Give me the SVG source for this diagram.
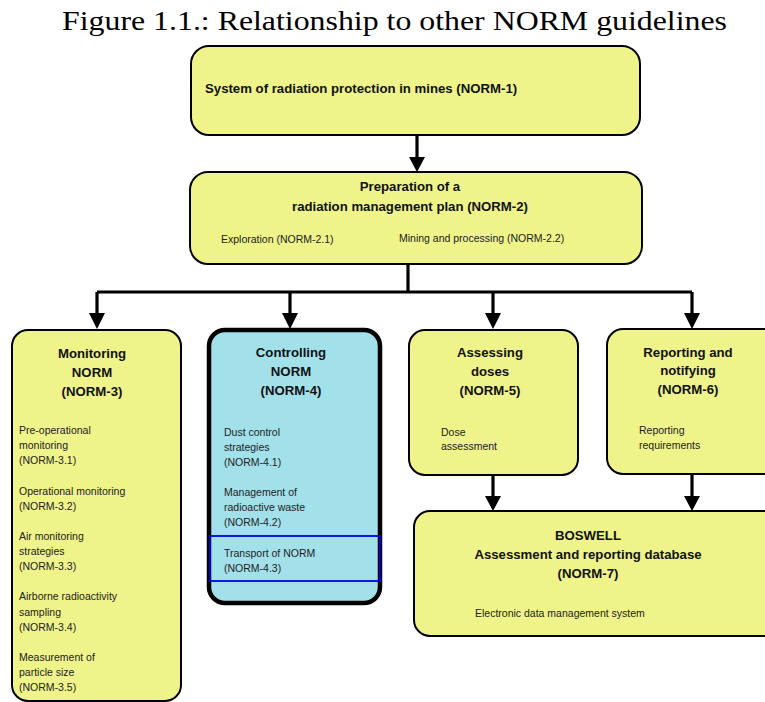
<svg xmlns="http://www.w3.org/2000/svg" width="765" height="702" viewBox="0 0 765 702">
<style>
.title{font-family:"Liberation Serif",serif;font-size:28px;fill:#000}
.box{fill:#eef38a;stroke:#000;stroke-width:2}
.cbox{fill:#a2e0ea;stroke:#000;stroke-width:4.5}
.h{font-family:"Liberation Sans",Arial,sans-serif;font-size:13.2px;font-weight:bold;fill:#111}
.hc{text-anchor:middle}
.s{font-family:"Liberation Sans",Arial,sans-serif;font-size:10.5px;fill:#222}
.ln{fill:none;stroke:#000;stroke-width:3.2}
</style>
<rect width="765" height="702" fill="#fff"/>
<text class="title" x="62" y="30" textLength="665" lengthAdjust="spacingAndGlyphs">Figure 1.1.:  Relationship to other NORM guidelines</text>

<g id="connectors">
<line class="ln" x1="417" y1="135" x2="417" y2="158"/>
<path d="M409,157 L425,157 L417,172 Z"/>
<path class="ln" d="M408,264 V292 M97,292 H692 M97,292 V314 M290,292 V314 M493,292 V314 M692,292 V314"/>
<path d="M89,313 L105,313 L97,329 Z"/>
<path d="M282,313 L298,313 L290,329 Z"/>
<path d="M485,313 L501,313 L493,329 Z"/>
<path d="M684,313 L700,313 L692,329 Z"/>
<path class="ln" d="M493,475 V497 M692,474 V497"/>
<path d="M485,496 L501,496 L493,511 Z"/>
<path d="M684,496 L700,496 L692,511 Z"/>
</g>

<g id="norm1">
<rect class="box" x="191" y="46" width="449" height="89" rx="18"/>
<text class="h" x="205" y="93">System of radiation protection in mines (NORM-1)</text>
</g>

<g id="norm2">
<rect class="box" x="190" y="172" width="452" height="92" rx="18"/>
<text class="h hc" x="410" y="191">Preparation of a</text>
<text class="h hc" x="410" y="211">radiation management plan (NORM-2)</text>
<text class="s" x="221" y="243">Exploration (NORM-2.1)</text>
<text class="s" x="399" y="242">Mining and processing (NORM-2.2)</text>
</g>

<g id="norm3">
<rect class="box" x="12" y="330" width="169" height="371" rx="16"/>
<text class="h hc" x="92" y="358">Monitoring</text>
<text class="h hc" x="92" y="377">NORM</text>
<text class="h hc" x="92" y="396">(NORM-3)</text>
<text class="s" x="19" y="434">Pre-operational</text>
<text class="s" x="19" y="449">monitoring</text>
<text class="s" x="19" y="464">(NORM-3.1)</text>
<text class="s" x="19" y="495">Operational monitoring</text>
<text class="s" x="19" y="510">(NORM-3.2)</text>
<text class="s" x="19" y="540">Air monitoring</text>
<text class="s" x="19" y="555">strategies</text>
<text class="s" x="19" y="570">(NORM-3.3)</text>
<text class="s" x="19" y="600">Airborne radioactivity</text>
<text class="s" x="19" y="616">sampling</text>
<text class="s" x="19" y="631">(NORM-3.4)</text>
<text class="s" x="19" y="661">Measurement of</text>
<text class="s" x="19" y="676">particle size</text>
<text class="s" x="19" y="691">(NORM-3.5)</text>
</g>

<g id="norm4">
<rect class="cbox" x="209" y="330" width="171" height="273" rx="16"/>
<text class="h hc" x="291" y="357">Controlling</text>
<text class="h hc" x="291" y="376">NORM</text>
<text class="h hc" x="291" y="395">(NORM-4)</text>
<text class="s" x="224" y="436">Dust control</text>
<text class="s" x="224" y="451">strategies</text>
<text class="s" x="224" y="466">(NORM-4.1)</text>
<text class="s" x="224" y="496">Management of</text>
<text class="s" x="224" y="511">radioactive waste</text>
<text class="s" x="224" y="526">(NORM-4.2)</text>
<rect x="210" y="536" width="170" height="45" fill="none" stroke="#0000ee" stroke-width="1.8"/>
<text class="s" x="224" y="557">Transport of NORM</text>
<text class="s" x="224" y="572">(NORM-4.3)</text>
</g>

<g id="norm5">
<rect class="box" x="409" y="330" width="169" height="145" rx="16"/>
<text class="h hc" x="490" y="357">Assessing</text>
<text class="h hc" x="490" y="376">doses</text>
<text class="h hc" x="490" y="395">(NORM-5)</text>
<text class="s" x="441" y="436">Dose</text>
<text class="s" x="441" y="450">assessment</text>
</g>

<g id="norm6">
<rect class="box" x="607" y="329" width="175" height="145" rx="16"/>
<text class="h hc" x="688" y="357">Reporting and</text>
<text class="h hc" x="688" y="375">notifying</text>
<text class="h hc" x="688" y="394">(NORM-6)</text>
<text class="s" x="639" y="434">Reporting</text>
<text class="s" x="639" y="449">requirements</text>
</g>

<g id="norm7">
<rect class="box" x="414" y="511" width="370" height="125" rx="16"/>
<text class="h hc" x="588" y="540">BOSWELL</text>
<text class="h hc" x="588" y="559">Assessment and reporting database</text>
<text class="h hc" x="588" y="578">(NORM-7)</text>
<text class="s" x="475" y="617">Electronic data management system</text>
</g>
</svg>
